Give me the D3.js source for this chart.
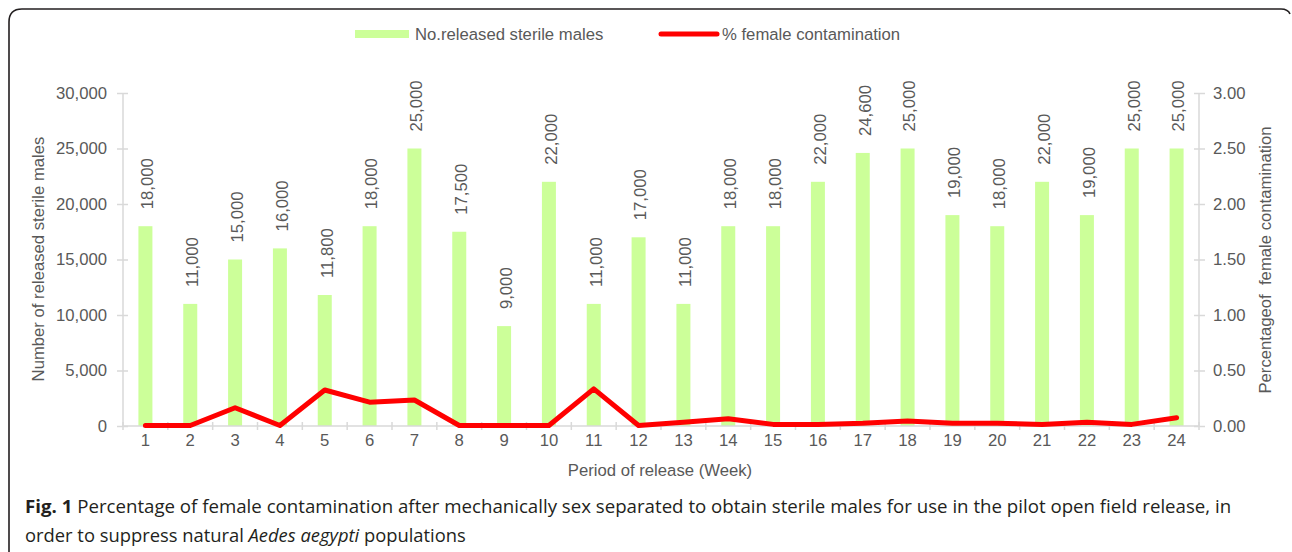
<!DOCTYPE html>
<html>
<head>
<meta charset="utf-8">
<script src="https://cdn.jsdelivr.net/npm/d3@7"></script>
<style>
  body { margin: 0; background: #fff; }
  svg { display: block; }
  text { font-family: "Liberation Sans", Arial, sans-serif; }
</style>
</head>
<body>
<svg id="chart" width="1292" height="552"></svg>
<script>
const weeks = d3.range(1, 25)
const males = [18000, 11000, 15000, 16000, 11800, 18000, 25000, 17500, 9000, 22000, 11000, 17000,
  11000, 18000, 18000, 22000, 24600, 25000, 19000, 18000, 22000, 19000, 25000, 25000]
const contamination = [0, 0, 0.16, 0, 0.32, 0.21, 0.23, 0, 0, 0, 0.33, 0,
  0.03, 0.06, 0.01, 0.01, 0.02, 0.04, 0.02, 0.02, 0.01, 0.03, 0.01, 0.07]
const leftTicks = [0, 5000, 10000, 15000, 20000, 25000, 30000]
const rightTicks = [0, 0.5, 1, 1.5, 2, 2.5, 3]

const svg = d3.select("#chart")
const grey = "#595959"
const axisGrey = "#d9d9d9"
const fs = "16.7px"

const plotLeft = 123, plotRight = 1199, plotTop = 93, plotBottom = 426

const x = d3.scaleBand().domain(weeks).range([plotLeft, plotRight])
const yL = d3.scaleLinear().domain([0, 30000]).range([plotBottom, plotTop])
const yR = d3.scaleLinear().domain([0, 3]).range([plotBottom, plotTop])
const fmt = d3.format(",")

// frame
svg.append("path")
  .attr("d", `M9,552 L9,22 Q9,9 22,9 L1281,9 Q1288,9 1290,14`)
  .attr("fill", "none")
  .attr("stroke", "#231f20")
  .attr("stroke-width", 1.6)

// bars
svg.append("g").selectAll("rect")
  .data(males)
  .join("rect")
  .attr("x", (d, i) => x(weeks[i]) + x.bandwidth() / 2 - 7)
  .attr("width", 14)
  .attr("y", d => yL(d))
  .attr("height", d => plotBottom - yL(d))
  .attr("fill", "#ccff99")

// axes
const axisL = svg.append("g").attr("transform", `translate(${plotLeft},0)`)
  .call(d3.axisLeft(yL).tickValues(leftTicks).tickFormat(fmt).tickSize(6).tickPadding(10))
const axisR = svg.append("g").attr("transform", `translate(${plotRight},0)`)
  .call(d3.axisRight(yR).tickValues(rightTicks).tickFormat(d3.format(".2f")).tickSize(6).tickPadding(8))
const axisB = svg.append("g").attr("transform", `translate(0,${plotBottom})`)
  .call(d3.axisBottom(x).tickSize(0).tickPadding(20))

axisL.selectAll(".tick line").attr("x1", 5)
axisR.selectAll(".tick line").attr("x1", -5)
axisB.selectAll(".tick text").attr("dy", "0")

// category boundary ticks on x axis
axisB.selectAll(".sep")
  .data(d3.range(0, 25))
  .join("line")
  .attr("class", "sep")
  .attr("x1", i => plotLeft + i * x.step())
  .attr("x2", i => plotLeft + i * x.step())
  .attr("y1", -4).attr("y2", 4)

for (const a of [axisL, axisR, axisB]) {
  a.select(".domain").attr("stroke", axisGrey).attr("stroke-width", 1.5)
  a.selectAll("line").attr("stroke", axisGrey).attr("stroke-width", 1.5)
  a.selectAll("text").attr("fill", grey).style("font-size", fs)
    .style("font-family", '"Liberation Sans", Arial, sans-serif')
}
axisL.select(".domain").attr("d", `M0,${plotBottom}V${plotTop}`)
axisR.select(".domain").attr("d", `M0,${plotBottom}V${plotTop}`)
axisB.select(".domain").attr("d", `M${plotLeft},0H${plotRight}`)

// line
const line = d3.line()
  .x((d, i) => x(weeks[i]) + x.bandwidth() / 2)
  .y(d => yR(d) - 0.5)
svg.append("path")
  .datum(contamination)
  .attr("d", line)
  .attr("fill", "none")
  .attr("stroke", "#ff0000")
  .attr("stroke-width", 5)
  .attr("stroke-linejoin", "round")
  .attr("stroke-linecap", "round")

// bar labels
svg.append("g").selectAll("text")
  .data(males)
  .join("text")
  .attr("transform", (d, i) => `translate(${x(weeks[i]) + x.bandwidth() / 2 + 2},${yL(d) - 17}) rotate(-90)`)
  .attr("dy", "0.35em")
  .attr("fill", grey)
  .style("font-size", fs)
  .text(d => fmt(d))

// axis titles
svg.append("text")
  .attr("transform", "translate(44,259) rotate(-90)")
  .attr("text-anchor", "middle")
  .attr("fill", grey).style("font-size", fs)
  .text("Number of released sterile males")
svg.append("text")
  .attr("transform", "translate(1271,260) rotate(-90)")
  .attr("text-anchor", "middle")
  .attr("fill", grey).style("font-size", fs)
  .attr("xml:space", "preserve")
  .text("Percentageof  female contamination")
svg.append("text")
  .attr("x", 660).attr("y", 476)
  .attr("text-anchor", "middle")
  .attr("fill", grey).style("font-size", fs)
  .text("Period of release (Week)")

// legend
svg.append("rect").attr("x", 355).attr("y", 30).attr("width", 54).attr("height", 8).attr("fill", "#ccff99")
svg.append("text").attr("x", 415).attr("y", 40).attr("fill", grey).style("font-size", fs)
  .text("No.released sterile males")
svg.append("line").attr("x1", 661).attr("x2", 717).attr("y1", 34).attr("y2", 34)
  .attr("stroke", "#ff0000").attr("stroke-width", 5).attr("stroke-linecap", "round")
svg.append("text").attr("x", 722).attr("y", 40).attr("fill", grey).style("font-size", fs)
  .text("% female contamination")

// caption
const captionFont = '"Open Sans", "Noto Sans", sans-serif'
const cap1 = svg.append("text").attr("fill", "#231f20").style("font-size", "18px").style("font-family", captionFont)
cap1.append("tspan").style("font-weight", "bold").text("Fig. 1")
cap1.append("tspan").text(" Percentage of female contamination after mechanically sex separated to obtain sterile males for use in the pilot open field release, in")
const cap2 = svg.append("text").attr("fill", "#231f20").style("font-size", "18px").style("font-family", captionFont)
cap2.append("tspan").text("order to suppress natural ")
cap2.append("tspan").style("font-style", "italic").text("Aedes aegypti")
cap2.append("tspan").text(" populations")

const fit = (sel, x0, x1, y) => {
  const w = sel.node().getComputedTextLength()
  sel.attr("transform", `translate(${x0},${y}) scale(${(x1 - x0) / w},1)`)
}
fit(cap1, 25, 1232, 513)
fit(cap2, 25, 466, 542)
</script>
</body>
</html>
